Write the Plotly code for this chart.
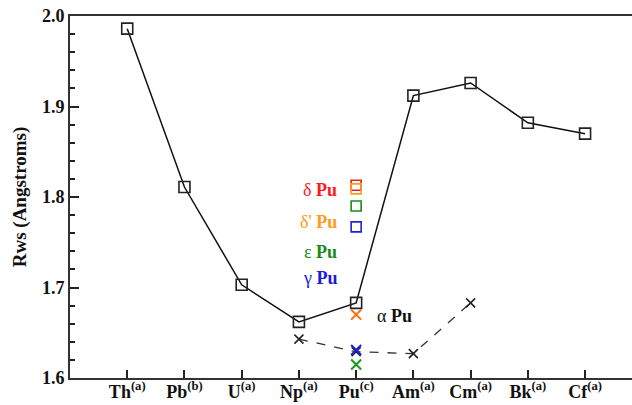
import plotly.graph_objects as go

elements = ["Th", "Pb", "U", "Np", "Pu", "Am", "Cm", "Bk", "Cf"]
refs = ["(a)", "(b)", "(a)", "(a)", "(c)", "(a)", "(a)", "(a)", "(a)"]
rws_main = [1.986, 1.811, 1.703, 1.662, 1.683, 1.912, 1.926, 1.882, 1.870]

dash_elements = ["Np", "Pu", "Am", "Cm"]
rws_dash = [1.643, 1.629, 1.627, 1.683]

phase_names = ["δ Pu", "δ' Pu", "ε Pu", "γ Pu"]
phase_sq = [1.813, 1.809, 1.790, 1.767]
phase_sq_colors = ["#ee1c1c", "#ff9a1a", "#1a8a1a", "#2020dd"]

x_phases = ["α Pu", "γ Pu", "ε Pu"]
x_vals = [1.670, 1.631, 1.615]
x_colors = ["#ff6a10", "#2020cc", "#1a9a1a"]

label_colors = ["#ff1a1a", "#ff9a1a", "#1a8a1a", "#1a1add", "#111111"]
label_texts = ["δ Pu", "δ' Pu", "ε Pu", "γ Pu", "α Pu"]
label_y = [1.808, 1.772, 1.739, 1.711, 1.669]

y_ticks = [1.6, 1.7, 1.8, 1.9, 2.0]

idx = {e: i for i, e in enumerate(elements)}
font = "Liberation Serif"

fig = go.Figure()
fig.add_trace(go.Scatter(
    x=[idx[e] for e in dash_elements], y=rws_dash, mode="lines+markers",
    line=dict(color="#333333", width=1.3, dash="dash"),
    marker=dict(symbol="x-thin", size=9, line=dict(color="#222222", width=1.6)),
    showlegend=False))
fig.add_trace(go.Scatter(
    x=list(range(len(elements))), y=rws_main, mode="lines+markers",
    line=dict(color="#111111", width=1.5),
    marker=dict(symbol="square-open", size=11, color="#222222", line=dict(width=1.6)),
    showlegend=False))
pu = idx["Pu"]
for v, c in zip(phase_sq, phase_sq_colors):
    fig.add_trace(go.Scatter(
        x=[pu], y=[v], mode="markers",
        marker=dict(symbol="square-open", size=10, color=c, line=dict(width=1.6)),
        showlegend=False))
for v, c in zip(x_vals, x_colors):
    fig.add_trace(go.Scatter(
        x=[pu], y=[v], mode="markers",
        marker=dict(symbol="x-thin", size=10, line=dict(color=c, width=2)),
        showlegend=False))

for t, c, yv in zip(label_texts, label_colors, label_y):
    sym, rest = t.rsplit(" ", 1)
    if t == "α Pu":
        fig.add_annotation(x=pu + 0.33, y=yv, text=f"{sym} <b>{rest}</b>", showarrow=False,
                           xanchor="left", yanchor="middle",
                           font=dict(family=font, size=18, color=c))
    else:
        fig.add_annotation(x=pu - 0.3, y=yv, text=f"{sym} <b>{rest}</b>", showarrow=False,
                           xanchor="right", yanchor="middle",
                           font=dict(family=font, size=18, color=c))

fig.update_layout(
    width=632, height=405,
    margin=dict(l=70, r=0, t=16, b=27),
    paper_bgcolor="white", plot_bgcolor="white",
    font=dict(family=font, color="#111111"),
)
fig.update_xaxes(
    range=[-1, 8.82], showgrid=False, zeroline=False,
    tickvals=list(range(len(elements))),
    ticktext=[f"<b>{e}<sup>{r}</sup></b>" for e, r in zip(elements, refs)],
    tickfont=dict(family=font, size=18, color="#111111"),
    ticks="inside", ticklen=8, tickwidth=2, tickcolor="#222222",
    ticklabelstandoff=-4,
    showline=True, linecolor="#333333", linewidth=2, mirror=True,
    automargin=False,
)
fig.update_yaxes(
    range=[1.6, 2.0], showgrid=False, zeroline=False,
    tickmode="array", tickvals=y_ticks,
    ticktext=[f"<b>{v:.1f}</b>" for v in y_ticks],
    tickfont=dict(family=font, size=18, color="#111111"),
    ticks="inside", ticklen=9, tickwidth=2, tickcolor="#222222",
    minor=dict(tickmode="linear", tick0=1.6, dtick=0.02, ticks="inside", ticklen=5,
               tickwidth=1.6, tickcolor="#222222"),
    showline=True, linecolor="#333333", linewidth=2, mirror=False,
    automargin=False,
    title=dict(text="<b>Rws (Angstroms)</b>", font=dict(family=font, size=19, color="#111111"), standoff=10),
)
fig.write_html("out.html", post_script="document.body.style.margin='0';",
               config={"displayModeBar": False})
